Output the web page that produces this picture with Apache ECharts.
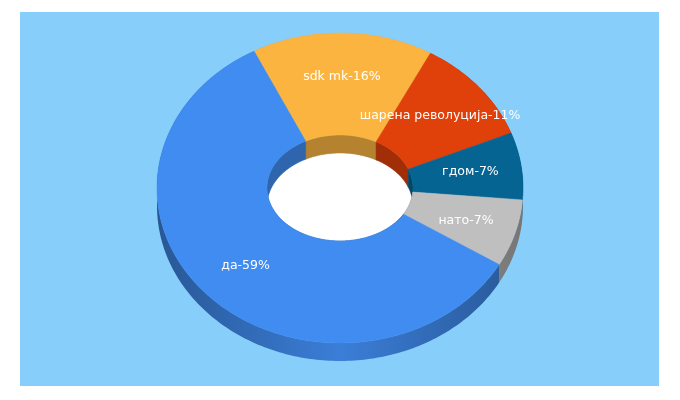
<!DOCTYPE html>
<html><head><meta charset="utf-8">
<script src="https://cdn.jsdelivr.net/npm/echarts@6/dist/echarts.min.js"></script>
<style>html,body{margin:0;background:#fff}#c{width:680px;height:400px}</style>
</head><body><div id="c"></div>
<script>
const categories = ['sdk mk', 'шарена револуција', 'гдом', 'нато', 'да'];
const values = [16, 11, 7, 7, 59];
const colors = ['#fcb441', '#e0400a', '#056492', '#bfbfbf', '#418cf0'];

const CX = 340, CY = 188, RX = 183, RY = 155, IRX = 73, IRY = 53, DEPTH = 18, START = -28;
const total = values.reduce((a, b) => a + b, 0);
function pt(rx, ry, deg, dy) {
  const t = deg * Math.PI / 180;
  return [CX + rx * Math.sin(t), CY - ry * Math.cos(t) + (dy || 0)];
}
function arc(rx, ry, a0, a1, dy) {
  const pts = [], n = Math.max(2, Math.ceil(Math.abs(a1 - a0)));
  for (let i = 0; i <= n; i++) pts.push(pt(rx, ry, a0 + (a1 - a0) * i / n, dy));
  return pts;
}
function shade(hex, f) {
  const n = parseInt(hex.slice(1), 16);
  const r = Math.round(((n >> 16) & 255) * f), g = Math.round(((n >> 8) & 255) * f), b = Math.round((n & 255) * f);
  return 'rgb(' + r + ',' + g + ',' + b + ')';
}
function sideFill(c) {
  return new echarts.graphic.LinearGradient(CX - RX, 0, CX + RX, 0, [
    { offset: 0, color: shade(c, 0.62) }, { offset: 0.5, color: shade(c, 0.9) }, { offset: 1, color: shade(c, 0.62) }
  ], true);
}
const chart = echarts.init(document.getElementById('c'));
chart.setOption({
  animation: false,
  graphic: [{ type: 'rect', shape: { x: 20, y: 12, width: 639, height: 374 }, style: { fill: '#87cefa' }, z: -10 }],
  series: [{
    type: 'custom', coordinateSystem: 'none',
    data: values.map((v, i) => [i, v]),
    renderItem: function (params, api) {
      const i = params.dataIndex;
      let a0 = START;
      for (let k = 0; k < i; k++) a0 += values[k] / total * 360;
      const a1 = a0 + values[i] / total * 360;
      const c = colors[i];
      const children = [];
      if (i === 0) {
        children.push({ type: 'ellipse', shape: { cx: CX, cy: CY + DEPTH, rx: IRX, ry: IRY }, style: { fill: '#ffffff' }, z2: 0 });
      }
      const outerTop = arc(RX, RY, a0, a1, 0), outerBot = arc(RX, RY, a0, a1, DEPTH);
      children.push({ type: 'polygon', shape: { points: outerTop.concat(outerBot.reverse()) },
        style: { fill: sideFill(c), stroke: null }, z2: 2 });
      const innerTop = arc(IRX, IRY, a0, a1, 0), innerBot = arc(IRX, IRY, a0, a1, DEPTH);
      children.push({ type: 'polygon', shape: { points: innerTop.concat(innerBot.reverse()) },
        style: { fill: shade(c, 0.72), stroke: shade(c, 0.72), lineWidth: 0.5 }, z2: 2 });
      const top = arc(RX, RY, a0, a1, 0).concat(arc(IRX, IRY, a1, a0, 0));
      children.push({ type: 'polygon', shape: { points: top }, style: { fill: c, stroke: c, lineWidth: 0.5 }, z2: 10 });
      const mid = (a0 + a1) / 2, lp = pt(RX * 0.72, RY * 0.72, mid, 0);
      children.push({ type: 'text', x: lp[0], y: lp[1], z2: 20,
        style: { text: categories[i] + '-' + values[i] + '%', fill: '#ffffff', fontSize: 12.5,
          fontFamily: 'DejaVu Sans', align: 'center', verticalAlign: 'middle' } });
      return { type: 'group', children: children };
    }
  }]
});
</script></body></html>
